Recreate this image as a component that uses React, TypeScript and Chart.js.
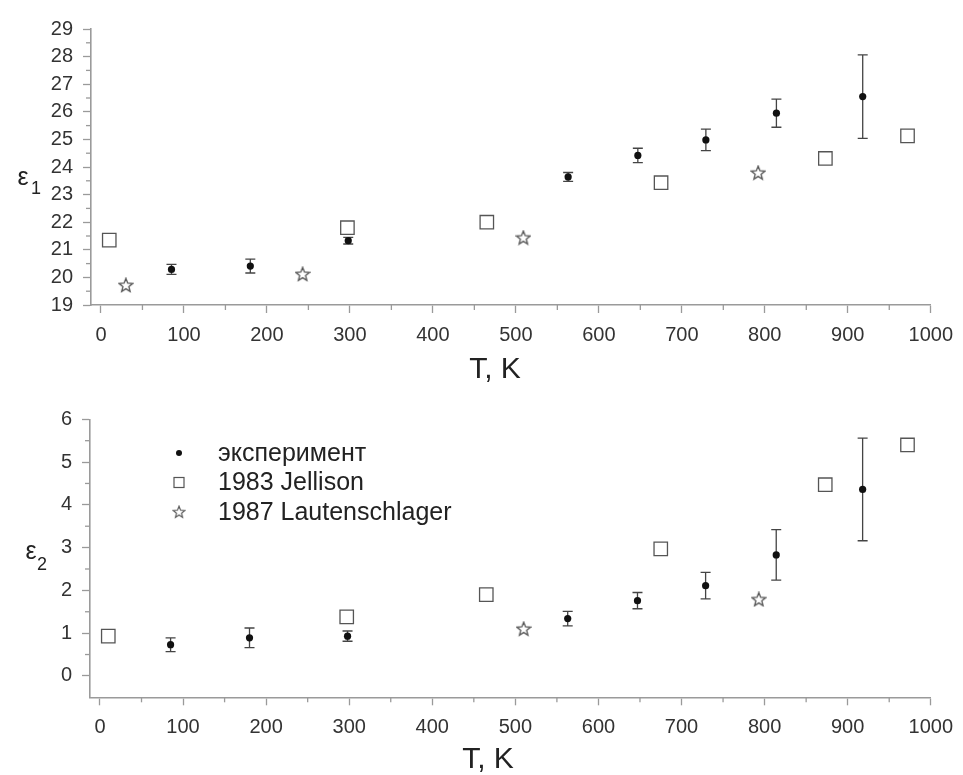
import { useEffect, useRef } from "react";
import { Chart, registerables } from "chart.js";

Chart.register(...registerables);

// ---------- data ----------
const T_EXP = [85, 180, 298, 563, 647, 729, 814, 918];
const EPS1_EXP = [20.29, 20.41, 21.33, 23.64, 24.42, 24.98, 25.95, 26.55];
const EPS1_ERR = [0.18, 0.25, 0.12, 0.16, 0.26, 0.39, 0.51, 1.51];
const T_JELL = [10, 297, 465, 675, 873, 972];
const EPS1_JELL = [21.35, 21.8, 22.0, 23.43, 24.31, 25.13];
const T_LAUT1 = [30, 243, 509, 792];
const EPS1_LAUT = [19.72, 20.12, 21.44, 23.79];

const EPS2_EXP = [0.73, 0.89, 0.93, 1.34, 1.76, 2.11, 2.83, 4.36];
const EPS2_ERR = [0.16, 0.23, 0.12, 0.17, 0.19, 0.31, 0.59, 1.2];
const EPS2_JELL = [0.93, 1.38, 1.9, 2.97, 4.47, 5.4];
const T_LAUT2 = [510, 793];
const EPS2_LAUT = [1.1, 1.79];

const LEGEND_LABELS = ["эксперимент", "1983 Jellison", "1987 Lautenschlager"];
const X_TITLE = "T, K";
const Y1_TITLE = ["ε", "1"];
const Y2_TITLE = ["ε", "2"];

const FONT = "'Liberation Sans', Arial, sans-serif";
const AXIS_COLOR = "#9a9a9a";
const TEXT_COLOR = "#333";
const MARK_COLOR = "#555";

function makeStar(size: number, outerR: number, innerR: number, color: string, lw: number) {
  const c = document.createElement("canvas");
  c.width = size;
  c.height = size;
  const ctx = c.getContext("2d")!;
  ctx.beginPath();
  for (let i = 0; i < 10; i++) {
    const r = i % 2 === 0 ? outerR : innerR;
    const a = -Math.PI / 2 + (i * Math.PI) / 5;
    const x = size / 2 + r * Math.cos(a);
    const y = size / 2 + 0.5 + r * Math.sin(a);
    if (i === 0) ctx.moveTo(x, y);
    else ctx.lineTo(x, y);
  }
  ctx.closePath();
  ctx.strokeStyle = color;
  ctx.lineWidth = lw;
  ctx.stroke();
  return c;
}

const decorPlugin = {
  id: "decor",
  beforeDatasetsDraw(chart: any, _args: any, opts: any) {
    const { ctx } = chart;
    const xs = chart.scales.x;
    const ys = chart.scales.y;
    const ds = chart.data.datasets[0];
    const errs: number[] = opts.err || [];
    ctx.save();
    ctx.strokeStyle = "#444";
    ctx.lineWidth = 1.3;
    ds.data.forEach((p: any, i: number) => {
      const e = errs[i];
      if (!e) return;
      const px = xs.getPixelForValue(p.x);
      const y1 = ys.getPixelForValue(p.y - e);
      const y2 = ys.getPixelForValue(p.y + e);
      ctx.beginPath();
      ctx.moveTo(px, y1);
      ctx.lineTo(px, y2);
      ctx.moveTo(px - 5, y1);
      ctx.lineTo(px + 5, y1);
      ctx.moveTo(px - 5, y2);
      ctx.lineTo(px + 5, y2);
      ctx.stroke();
    });
    ctx.restore();
  },
  afterDraw(chart: any, _args: any, opts: any) {
    const { ctx, chartArea } = chart;
    const xs = chart.scales.x;
    const ys = chart.scales.y;
    ctx.save();
    // minor ticks
    ctx.strokeStyle = AXIS_COLOR;
    ctx.lineWidth = 1.3;
    for (let v = 50; v < 1000; v += 100) {
      const px = xs.getPixelForValue(v);
      ctx.beginPath();
      ctx.moveTo(px, chartArea.bottom);
      ctx.lineTo(px, chartArea.bottom + 5);
      ctx.stroke();
    }
    for (let v = opts.yMinorStart; v < ys.max; v += 1) {
      const py = ys.getPixelForValue(v);
      ctx.beginPath();
      ctx.moveTo(chartArea.left, py);
      ctx.lineTo(chartArea.left - 5, py);
      ctx.stroke();
    }
    // x title
    ctx.fillStyle = "#222";
    ctx.font = `30px ${FONT}`;
    ctx.textAlign = "center";
    ctx.textBaseline = "middle";
    ctx.fillText(X_TITLE, opts.xTitle[0], opts.xTitle[1]);
    // y title with subscript
    ctx.font = `25px ${FONT}`;
    ctx.fillText(opts.yTitle[0], opts.yPos[0], opts.yPos[1]);
    ctx.font = `18px ${FONT}`;
    ctx.fillText(opts.yTitle[1], opts.yPos[2], opts.yPos[3]);
    // legend
    if (opts.legend) {
      const [lx, ly, step] = opts.legend;
      const sets = chart.data.datasets;
      ctx.font = `25px ${FONT}`;
      ctx.textAlign = "left";
      sets.forEach((d: any, i: number) => {
        const y = ly + i * step;
        if (i === 0) {
          ctx.fillStyle = "#111";
          ctx.beginPath();
          ctx.arc(lx, y, 3, 0, Math.PI * 2);
          ctx.fill();
        } else if (i === 1) {
          ctx.strokeStyle = MARK_COLOR;
          ctx.lineWidth = 1.2;
          ctx.strokeRect(lx - 5, y - 5, 10, 10);
        } else {
          const img = d.pointStyle as HTMLCanvasElement;
          const w = img.width * 0.85;
          ctx.drawImage(img, lx - w / 2, y - w / 2, w, w);
        }
        ctx.fillStyle = "#222";
        ctx.fillText(d.label, lx + 39, y + 1);
      });
    }
    ctx.restore();
  },
};

function makeConfig(p: {
  exp: number[];
  err: number[];
  jell: number[];
  tLaut: number[];
  laut: number[];
  yMin: number;
  yMax: number;
  star: HTMLCanvasElement;
  height: number;
  top: number;
  bottom: number;
  left: number;
  right: number;
  yMinorStart: number;
  xTitle: number[];
  yTitle: string[];
  yPos: number[];
  legend?: number[];
}): any {
  return {
    type: "scatter",
    data: {
      datasets: [
        {
          label: LEGEND_LABELS[0],
          data: T_EXP.map((x, i) => ({ x, y: p.exp[i] })),
          pointStyle: "circle",
          pointRadius: 3.6,
          backgroundColor: "#111",
          borderColor: "#111",
          borderWidth: 0,
        },
        {
          label: LEGEND_LABELS[1],
          data: T_JELL.map((x, i) => ({ x, y: p.jell[i] })),
          pointStyle: "rect",
          pointRadius: 9.5,
          backgroundColor: "rgba(255,255,255,0)",
          borderColor: MARK_COLOR,
          borderWidth: 1.3,
        },
        {
          label: LEGEND_LABELS[2],
          data: p.tLaut.map((x, i) => ({ x, y: p.laut[i] })),
          pointStyle: p.star,
          pointRadius: 7,
        },
      ],
    },
    options: {
      animation: false,
      responsive: false,
      events: [],
      layout: { padding: { left: 0, top: p.top, right: 963 - p.right, bottom: 0 } },
      plugins: {
        legend: { display: false },
        tooltip: { enabled: false },
        decor: {
          err: p.err,
          yMinorStart: p.yMinorStart,
          xTitle: p.xTitle,
          yTitle: p.yTitle,
          yPos: p.yPos,
          legend: p.legend,
        },
      },
      scales: {
        x: {
          type: "linear",
          min: -12,
          max: 1000,
          afterFit: (s: any) => {
            s.height = p.height - p.bottom;
          },
          ticks: {
            stepSize: 100,
            includeBounds: false,
            autoSkip: false,
            maxRotation: 0,
            color: TEXT_COLOR,
            font: { size: 20, family: FONT },
            padding: 10,
            callback: (v: number) => String(v),
          },
          grid: {
            drawOnChartArea: false,
            drawTicks: true,
            tickLength: 8,
            tickColor: AXIS_COLOR,
            tickWidth: 1.3,
          },
          border: { display: true, color: AXIS_COLOR, width: 1.6 },
        },
        y: {
          type: "linear",
          min: p.yMin,
          max: p.yMax,
          afterFit: (s: any) => {
            s.width = p.left;
          },
          ticks: {
            stepSize: 1,
            includeBounds: false,
            autoSkip: false,
            color: TEXT_COLOR,
            font: { size: 20, family: FONT },
            padding: 10,
            callback: (v: number) => String(v),
          },
          grid: {
            drawOnChartArea: false,
            drawTicks: true,
            tickLength: 8,
            tickColor: AXIS_COLOR,
            tickWidth: 1.3,
          },
          border: { display: true, color: AXIS_COLOR, width: 1.6 },
        },
      },
    },
    plugins: [decorPlugin],
  };
}

export default function App() {
  const ref1 = useRef<HTMLCanvasElement>(null);
  const ref2 = useRef<HTMLCanvasElement>(null);

  useEffect(() => {
    const star = makeStar(16, 7.2, 3.1, MARK_COLOR, 1.3);
    const c1 = new Chart(
      ref1.current!,
      makeConfig({
        exp: EPS1_EXP,
        err: EPS1_ERR,
        jell: EPS1_JELL,
        tLaut: T_LAUT1,
        laut: EPS1_LAUT,
        yMin: 19,
        yMax: 29,
        star,
        height: 390,
        top: 29,
        bottom: 305,
        left: 91,
        right: 937,
        yMinorStart: 19.5,
        xTitle: [495, 370],
        yTitle: Y1_TITLE,
        yPos: [23, 178, 36, 189],
      })
    );
    const c2 = new Chart(
      ref2.current!,
      makeConfig({
        exp: EPS2_EXP,
        err: EPS2_ERR,
        jell: EPS2_JELL,
        tLaut: T_LAUT2,
        laut: EPS2_LAUT,
        yMin: -0.5,
        yMax: 6,
        star,
        height: 385,
        top: 29.3,
        bottom: 307.3,
        left: 90,
        right: 933,
        yMinorStart: 0.5,
        xTitle: [488, 370],
        yTitle: Y2_TITLE,
        yPos: [31, 162, 42, 175],
        legend: [179, 63, 29.5],
      })
    );
    return () => {
      c1.destroy();
      c2.destroy();
    };
  }, []);

  return (
    <div style={{ position: "absolute", left: 0, top: 0, width: 963, height: 775, background: "#fff" }}>
      <canvas ref={ref1} width={963} height={390} style={{ position: "absolute", left: 0, top: 0 }} />
      <canvas ref={ref2} width={963} height={385} style={{ position: "absolute", left: 0, top: 390 }} />
    </div>
  );
}
